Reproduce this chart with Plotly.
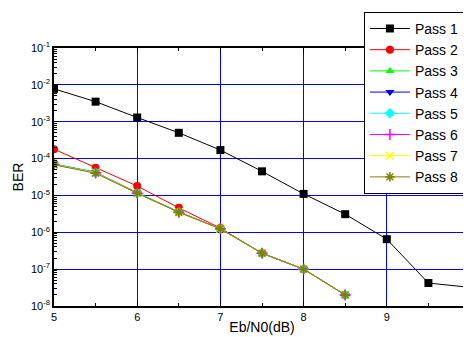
import plotly.graph_objects as go

ebn0 = [5, 5.5, 6, 6.5, 7, 7.5, 8, 8.5, 9, 9.5, 10]
pass1 = [7.8e-3, 3.5e-3, 1.3e-3, 5.0e-4, 1.7e-4, 4.5e-5, 1.1e-5, 3.1e-6, 6.5e-7, 4.2e-8, 3.2e-8]
ebn0_short = [5, 5.5, 6, 6.5, 7, 7.5, 8, 8.5]
pass2 = [1.8e-4, 5.6e-5, 1.8e-5, 4.6e-6, 1.3e-6, 2.7e-7, 1.0e-7, 2.0e-8]
pass3 = [7.2e-5, 4.3e-5, 1.2e-5, 3.6e-6, 1.25e-6, 2.7e-7, 1.0e-7, 2.0e-8]
pass4 = [7.0e-5, 4.2e-5, 1.15e-5, 3.55e-6, 1.25e-6, 2.7e-7, 1.0e-7, 2.0e-8]
pass5 = [7.0e-5, 4.2e-5, 1.15e-5, 3.55e-6, 1.25e-6, 2.7e-7, 1.0e-7, 2.0e-8]
pass6 = [6.9e-5, 4.1e-5, 1.15e-5, 3.5e-6, 1.25e-6, 2.7e-7, 1.0e-7, 2.0e-8]
pass7 = [6.9e-5, 4.1e-5, 1.15e-5, 3.5e-6, 1.25e-6, 2.7e-7, 1.0e-7, 2.0e-8]
pass8 = [6.8e-5, 4.0e-5, 1.15e-5, 3.5e-6, 1.25e-6, 2.7e-7, 1.0e-7, 2.0e-8]

names = ["Pass 1", "Pass 2", "Pass 3", "Pass 4", "Pass 5", "Pass 6", "Pass 7", "Pass 8"]
colors = ["#000000", "#ff0000", "#00ff00", "#0000ff", "#00ffff", "#ff00ff", "#ffff00", "#808000"]
symbols = ["square", "circle", "triangle-up", "triangle-down", "diamond", "cross-thin", "x-thin", "asterisk"]
ys = [pass1, pass2, pass3, pass4, pass5, pass6, pass7, pass8]
xs = [ebn0] + [ebn0_short] * 7

ytickvals = [1e-8, 1e-7, 1e-6, 1e-5, 1e-4, 1e-3, 1e-2, 1e-1]
yticktext = ["10<sup>-8</sup>", "10<sup>-7</sup>", "10<sup>-6</sup>", "10<sup>-5</sup>",
             "10<sup>-4</sup>", "10<sup>-3</sup>", "10<sup>-2</sup>", "10<sup>-1</sup>"]
xtickvals = [5, 6, 7, 8, 9, 10]
xticktext = ["5", "6", "7", "8", "9", "10"]

fig = go.Figure()
for x, y, n, c, s in zip(xs, ys, names, colors, symbols):
    thin = s in ("cross-thin", "x-thin", "asterisk")
    fig.add_trace(go.Scatter(
        x=x, y=y, name=n, mode="lines+markers",
        line=dict(color=c, width=1),
        marker=dict(symbol=s, color=c, size=8,
                    line=dict(color=c, width=1.5 if thin else 0)),
    ))

# page body has an 8px default margin; margins compensate for it
fig.update_layout(
    width=471, height=337,
    margin=dict(l=46, r=9, t=40, b=39, autoexpand=False),
    paper_bgcolor="white", plot_bgcolor="white",
    font=dict(family="Liberation Sans, Arial, sans-serif", color="black", size=11),
    showlegend=True,
    legend=dict(x=0.745, y=1.14, xanchor="left", yanchor="top",
                bordercolor="black", borderwidth=1, bgcolor="white",
                font=dict(size=14), tracegroupgap=0, itemwidth=40,
                maxheight=1.0),
)
fig.update_xaxes(
    range=[5, 10], tickvals=xtickvals, ticktext=xticktext, automargin=False,
    showgrid=True, gridcolor="#0000ff", gridwidth=1,
    showline=True, linecolor="black", linewidth=1.5, mirror="allticks",
    ticks="inside", ticklen=5, tickcolor="black",
    minor=dict(tickvals=[5.5, 6.5, 7.5, 8.5, 9.5], ticks="inside", ticklen=3, tickcolor="black", showgrid=False),
    title=dict(text="Eb/N0(dB)", font=dict(size=14), standoff=0),
    zeroline=False,
)
fig.update_yaxes(
    type="log", range=[-8, -1], tickvals=ytickvals, ticktext=yticktext, automargin=False,
    showgrid=True, gridcolor="#0000ff", gridwidth=1,
    showline=True, linecolor="black", linewidth=1.5, mirror="allticks",
    ticks="inside", ticklen=5, tickcolor="black",
    minor=dict(dtick="D1", ticks="inside", ticklen=3, tickcolor="black", showgrid=False),
    title=dict(text="BER", font=dict(size=14), standoff=4),
    zeroline=False,
)

fig.write_html("out.html")
